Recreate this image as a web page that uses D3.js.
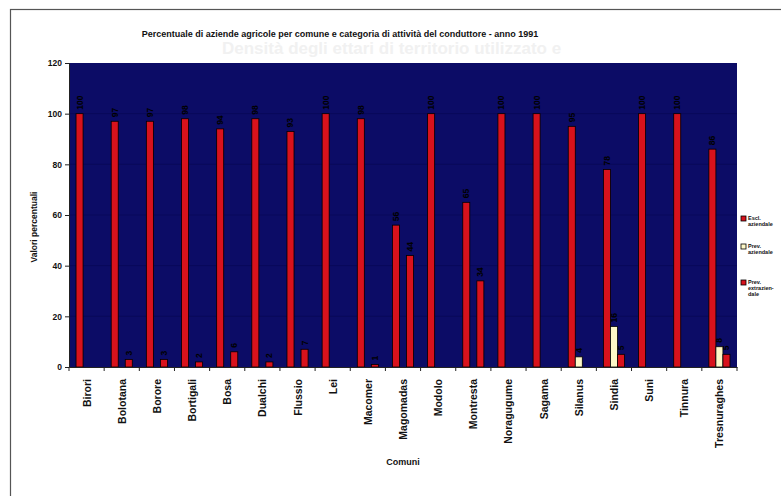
<!DOCTYPE html>
<html>
<head>
<meta charset="utf-8">
<script src="https://cdn.jsdelivr.net/npm/d3@7"></script>
<style>
  html, body { margin: 0; padding: 0; background: #ffffff; }
  svg { display: block; font-family: "Liberation Sans", Arial, sans-serif; }
</style>
</head>
<body>
<svg id="chart" width="781" height="496"></svg>
<script>
// Comuni del territorio considerato
const comuni = ["Birori", "Bolotana", "Borore", "Bortigali", "Bosa", "Dualchi", "Flussio",
  "Lei", "Macomer", "Magomadas", "Modolo", "Montresta", "Noragugume", "Sagama",
  "Silanus", "Sindia", "Suni", "Tinnura", "Tresnuraghes"];

// Percentuale di aziende per categoria di attività del conduttore (1991)
const esclAziendale = [100, 97, 97, 98, 94, 98, 93, 100, 98, 56, 100, 65, 100, 100, 95, 78, 100, 100, 86];
const prevAziendale = [0, 0, 0, 0, 0, 0, 0, 0, 0, 0, 0, 0, 0, 0, 4, 16, 0, 0, 8];
const prevExtraziendale = [0, 3, 3, 2, 6, 2, 7, 0, 1, 44, 0, 34, 0, 0, 0, 5, 0, 0, 5];

const serieNomi = ["Escl. aziendale", "Prev. aziendale", "Prev. extraziendale"];
const yTicks = [0, 20, 40, 60, 80, 100, 120];

const serie = [esclAziendale, prevAziendale, prevExtraziendale];
const colori = ["#d8121c", "#fdf8c8", "#d8121c"];

const svg = d3.select("#chart");

// cornice esterna
svg.append("rect")
  .attr("x", 10.5).attr("y", 9.5)
  .attr("width", 800).attr("height", 520)
  .attr("fill", "none").attr("stroke", "#555").attr("stroke-width", 1.2);

// intestazione della pagina retrostante, appena visibile
svg.append("text")
  .attr("x", 222).attr("y", 54)
  .attr("font-size", 17).attr("font-weight", "bold")
  .attr("fill", "#f1f1f1")
  .text("Densità degli ettari di territorio utilizzato e");

const plot = { left: 69, right: 737, top: 63, bottom: 367 };

const x0 = d3.scaleBand().domain(comuni).range([plot.left, plot.right]).paddingInner(0).paddingOuter(0);
const x1 = d3.scaleBand().domain(d3.range(serie.length)).range([0, x0.bandwidth()])
  .paddingInner(0).paddingOuter(1);
const y = d3.scaleLinear().domain([0, 120]).range([plot.bottom, plot.top]);

// titolo
svg.append("text")
  .attr("x", 340).attr("y", 37)
  .attr("text-anchor", "middle")
  .attr("font-size", 9).attr("font-weight", "bold")
  .attr("fill", "#111")
  .text("Percentuale di aziende agricole per comune e categoria di attività del conduttore - anno 1991");

// area del grafico
svg.append("rect")
  .attr("x", plot.left).attr("y", plot.top)
  .attr("width", plot.right - plot.left).attr("height", plot.bottom - plot.top)
  .attr("fill", "#0c0c66");

// linee di griglia
svg.append("g").selectAll("line")
  .data(yTicks.filter(t => t > 0 && t < 120))
  .join("line")
  .attr("x1", plot.left).attr("x2", plot.right)
  .attr("y1", d => y(d)).attr("y2", d => y(d))
  .attr("stroke", "#09095a").attr("stroke-width", 1);

// barre
const gruppi = svg.append("g").selectAll("g")
  .data(comuni)
  .join("g")
  .attr("transform", d => `translate(${x0(d)},0)`);

gruppi.selectAll("rect")
  .data((c, i) => serie.map((s, k) => ({ k, v: s[i] })))
  .join("rect")
  .filter(d => d.v > 0)
  .attr("x", d => x1(d.k))
  .attr("y", d => y(d.v))
  .attr("width", x1.bandwidth())
  .attr("height", d => y(0) - y(d.v))
  .attr("fill", d => colori[d.k])
  .attr("stroke", "#000")
  .attr("stroke-width", 0.8);

// etichette dei valori
gruppi.selectAll("text")
  .data((c, i) => serie.map((s, k) => ({ k, v: s[i] })).filter(d => d.v > 0))
  .join("text")
  .attr("transform", d => `translate(${x1(d.k) + x1.bandwidth() / 2 + 3},${y(d.v) - 4}) rotate(-90)`)
  .attr("font-size", 8.5).attr("font-weight", "bold")
  .attr("fill", "#000")
  .text(d => d3.format("d")(d.v));

// asse Y
const yAxis = svg.append("g")
  .attr("transform", `translate(${plot.left},0)`)
  .call(d3.axisLeft(y).tickValues(yTicks).tickSize(4).tickPadding(3));
yAxis.select(".domain").attr("stroke", "#222");
yAxis.selectAll(".tick line").attr("stroke", "#222");
yAxis.selectAll(".tick text")
  .attr("font-size", 8.5).attr("font-weight", "bold").attr("fill", "#111")
  .attr("font-family", "Liberation Sans, Arial, sans-serif");

// asse X
const xAxis = svg.append("g")
  .attr("transform", `translate(0,${plot.bottom})`)
  .call(d3.axisBottom(x0).tickSize(0).tickPadding(0));
xAxis.select(".domain").attr("stroke", "#222");
xAxis.selectAll(".tick text")
  .attr("font-size", 10.5).attr("font-weight", "bold").attr("fill", "#111")
  .attr("font-family", "Liberation Sans, Arial, sans-serif")
  .attr("text-anchor", "end")
  .attr("transform", "translate(4,12) rotate(-90)")
  .attr("dy", 0).attr("y", 0).attr("x", 0);

// tacche tra le categorie
svg.append("g").selectAll("line")
  .data(d3.range(comuni.length + 1))
  .join("line")
  .attr("x1", i => plot.left + i * x0.step()).attr("x2", i => plot.left + i * x0.step())
  .attr("y1", plot.bottom).attr("y2", plot.bottom + 4)
  .attr("stroke", "#222");

// titoli degli assi
svg.append("text")
  .attr("transform", `translate(37,227) rotate(-90)`)
  .attr("text-anchor", "middle")
  .attr("font-size", 8.5).attr("font-weight", "bold").attr("fill", "#111")
  .text("Valori percentuali");

svg.append("text")
  .attr("x", 403).attr("y", 465)
  .attr("text-anchor", "middle")
  .attr("font-size", 9).attr("font-weight", "bold").attr("fill", "#111")
  .text("Comuni");

// legenda
const legendaRighe = [["Escl.", "aziendale"], ["Prev.", "aziendale"], ["Prev.", "extrazien-", "dale"]];
const legendaY = [220, 248, 284];
const legenda = svg.append("g").selectAll("g")
  .data(serieNomi)
  .join("g")
  .attr("transform", (d, i) => `translate(741,${legendaY[i]})`);
legenda.append("rect")
  .attr("x", 0).attr("y", -4).attr("width", 5).attr("height", 5)
  .attr("fill", (d, i) => colori[i]).attr("stroke", "#000").attr("stroke-width", 0.8);
legenda.each(function (d, i) {
  d3.select(this).selectAll("text")
    .data(legendaRighe[i])
    .join("text")
    .attr("x", 7).attr("y", (t, j) => j * 6)
    .attr("font-size", 5.5).attr("font-weight", "bold").attr("fill", "#111")
    .text(t => t);
});
</script>
</body>
</html>
